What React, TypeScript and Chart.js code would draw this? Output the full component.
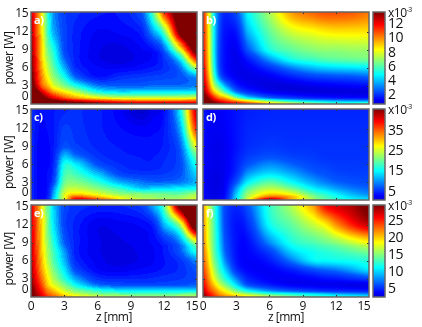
import React, { useEffect, useRef } from "react";
import { Chart, registerables } from "chart.js";
Chart.register(...registerables);

const FONT = '"Open Sans"';
const zNodes = [0, 0.5, 1, 1.5, 2, 3, 4, 6, 8, 10, 11, 12, 13.5, 15];
const powerNodes = [15.3, 12, 9, 7.5, 6, 4.5, 3, 2, 1, 0.5, 0];
const xTicks = [0, 3, 6, 9, 12, 15];
const yTicks = [0, 3, 6, 9, 12, 15];

const panelA = [
  [92,78,62,42,27,17,14,11,11,20,45,82,112,135],
  [95,80,64,44,30,18,12,7,8,12,28,47,105,135],
  [97,83,66,49,40,19,12,5,3,7,10,22,62,110],
  [99,84,67,53,43,23,12,5,2,6,8,15,37,87],
  [100,86,70,57,47,30,14,8,7,9,11,14,24,55],
  [104,88,74,62,52,39,22,10,14,16,17,18,20,27],
  [108,93,78,70,60,50,40,25,22,22,23,23,23,25],
  [115,105,92,82,73,64,56,40,35,36,36,36,36,37],
  [125,115,105,97,90,80,72,63,58,57,57,57,58,60],
  [135,125,115,110,105,97,92,85,80,78,78,78,78,80],
  [150,140,130,125,120,113,108,103,98,96,96,96,96,97],
];
const panelB = [
  [85,63,36,20,13,19,37,54,72,78,80,80,79,76],
  [86,64,37,18,10,11,30,47,58,62,64,65,65,65],
  [87,65,37,17,9,6,20,40,47,51,52,52,53,53],
  [88,66,38,17,9,5,11,28,40,44,46,47,48,49],
  [90,68,40,18,9,5,6,15,25,31,33,34,35,36],
  [92,72,45,24,13,6,4,6,12,17,18,19,20,22],
  [96,78,56,42,29,13,7,3,3,5,6,7,8,9],
  [100,85,68,57,45,25,15,7,4,3,3,3,3,3],
  [108,97,85,75,70,51,36,23,17,13,12,11,10,10],
  [115,105,95,88,83,74,65,50,40,34,32,30,29,28],
  [125,115,105,100,95,90,84,70,60,52,48,46,45,50],
];
const panelC = [
  [15,11,9,10,11,13,14,12,7,0,5,9,38,95],
  [14,10,8,9,11,17,15,12,9,7,8,11,30,85],
  [13,9,7,8,11,20,17,13,11,10,10,12,22,62],
  [13,9,7,8,12,30,23,15,12,11,11,13,20,48],
  [13,9,7,8,13,39,36,20,14,12,12,14,19,40],
  [13,9,7,9,15,43,43,31,18,15,15,16,20,34],
  [13,9,7,9,18,47,50,42,30,24,22,22,24,30],
  [13,9,7,10,24,52,56,50,42,32,33,34,36,38],
  [13,9,7,11,28,58,66,60,52,50,49,48,47,53],
  [13,9,7,12,30,60,80,70,60,53,52,51,52,57],
  [13,9,8,13,33,60,92,85,65,58,56,55,55,60],
];
const panelD = [
  [11,8,7,7,8,10,12,13,13,13,13,13,13,13],
  [10,7,6,6,7,10,13,14,14,14,14,14,14,14],
  [9,6,5,5,6,10,14,16,15,15,15,15,15,15],
  [9,6,5,5,6,11,16,19,17,16,15,15,15,15],
  [9,6,5,5,6,12,20,26,22,18,17,16,16,16],
  [9,5,4,4,6,14,27,34,29,22,20,18,17,17],
  [9,5,4,4,7,20,36,46,38,29,25,22,20,19],
  [9,5,4,4,8,27,45,55,48,36,32,28,24,22],
  [9,5,4,5,9,32,52,66,61,46,41,36,30,26],
  [9,5,4,5,10,34,55,78,70,51,45,40,34,31],
  [9,5,4,5,10,36,60,100,70,53,47,42,37,35],
];
const panelE = [
  [90,78,64,48,34,19,15,13,13,17,29,47,110,140],
  [91,79,65,49,36,18,12,5,6,8,12,30,55,120],
  [92,80,66,52,41,22,12,5,4,6,8,13,26,56],
  [93,81,67,54,44,28,12,5,3,5,7,11,21,40],
  [94,82,69,56,46,31,14,6,3,5,7,10,15,26],
  [96,84,71,60,50,36,19,8,6,8,9,11,14,20],
  [98,87,76,64,55,42,29,15,13,13,14,15,16,19],
  [100,90,80,68,60,50,38,24,20,19,19,19,20,22],
  [103,94,85,75,69,58,50,42,37,36,36,36,36,37],
  [105,96,88,79,74,64,57,50,47,46,46,46,47,49],
  [107,98,90,84,79,71,65,60,56,55,55,55,55,56],
];
const panelF = [
  [72,58,44,30,18,13,20,42,55,72,87,92,96,103],
  [73,59,45,31,18,10,14,38,47,57,63,73,85,93],
  [75,60,46,33,20,10,9,26,40,45,48,51,57,62],
  [77,63,47,35,22,10,8,17,33,39,41,43,46,49],
  [79,66,50,39,26,11,7,11,24,36,37,38,39,41],
  [82,70,55,43,33,15,8,7,12,19,22,24,29,35],
  [86,74,61,50,41,26,13,7,6,8,10,11,14,17],
  [89,78,68,58,50,35,20,12,7,6,5,5,4,5],
  [94,83,76,68,62,49,38,27,21,17,15,14,13,12],
  [98,88,80,73,68,60,53,44,39,35,33,30,28,26],
  [102,92,85,80,76,72,66,58,50,44,42,40,38,37],
];

const barTicksTop = [2, 4, 6, 8, 10, 12];
const barTicksMid = [5, 15, 25, 35];
const barTicksLow = [5, 10, 15, 20, 25];

const clamp = (v: number) => Math.max(0, Math.min(1, v));
function jet(t: number) {
  const r = clamp(1.5 - Math.abs(4 * t - 3));
  const g = clamp(1.5 - Math.abs(4 * t - 2));
  const b = clamp(1.5 - Math.abs(4 * t - 1));
  return `rgb(${Math.round(r * 255)},${Math.round(g * 255)},${Math.round(b * 255)})`;
}
// The reference's colour map starts at a mid blue rather than at navy.
const lift = (t: number) => (t < 0.2 ? 0.075 + 0.65 * t : t);

function locate(nodes: number[], v: number) {
  if (v <= nodes[0]) return 0;
  for (let i = 0; i < nodes.length - 1; i++) {
    if (v <= nodes[i + 1]) return i + (v - nodes[i]) / (nodes[i + 1] - nodes[i]);
  }
  return nodes.length - 1;
}
function cubic(a: number, b: number, c: number, d: number, f: number) {
  return b + 0.5 * f * (c - a + f * (2 * a - 5 * b + 4 * c - d + f * (3 * (b - c) + d - a)));
}
const pAsc = [...powerNodes].reverse();
function sample(points: any[], z: number, p: number) {
  const nz = zNodes.length;
  const np = pAsc.length;
  const at = (i: number, j: number) => {
    const ii = Math.max(0, Math.min(nz - 1, i));
    const jj = Math.max(0, Math.min(np - 1, j));
    return points[(np - 1 - jj) * nz + ii].v;
  };
  const fx = locate(zNodes, z);
  const fy = locate(pAsc, p);
  const ix = Math.floor(fx);
  const iy = Math.floor(fy);
  const rows = [-1, 0, 1, 2].map((dj) =>
    cubic(at(ix - 1, iy + dj), at(ix, iy + dj), at(ix + 1, iy + dj), at(ix + 2, iy + dj), fx - ix)
  );
  return cubic(rows[0], rows[1], rows[2], rows[3], fy - iy);
}

const heatPlugin = {
  id: "heat",
  beforeDraw(chart: any) {
    chart.ctx.letterSpacing = "-0.5px";
  },
  beforeDatasetsDraw(chart: any) {
    const { ctx, chartArea: a, scales } = chart;
    const o = chart.options.plugins.heat;
    const pts = chart.data.datasets[0].data;
    for (let px = Math.round(a.left); px < Math.round(a.right); px++) {
      const z = scales.x.getValueForPixel(px + 0.5);
      for (let py = Math.round(a.top); py < Math.round(a.bottom); py++) {
        const p = scales.y.getValueForPixel(py + 0.5);
        let t = clamp(sample(pts, z, p) / 100);
        if (o.levels) t = Math.round(t * o.levels) / o.levels;
        ctx.fillStyle = jet(lift(t));
        ctx.fillRect(px, py, 1, 1);
      }
    }
  },
  afterDraw(chart: any) {
    const { ctx, chartArea: a, scales } = chart;
    const o = chart.options.plugins.heat;
    ctx.save();
    ctx.strokeStyle = "#333";
    ctx.lineWidth = 1;
    xTicks.slice(1, -1).forEach((v) => {
      const x = Math.round(scales.x.getPixelForValue(v)) + 0.5;
      ctx.beginPath();
      ctx.moveTo(x, a.top);
      ctx.lineTo(x, a.top + 2);
      ctx.moveTo(x, a.bottom);
      ctx.lineTo(x, a.bottom - 2);
      ctx.stroke();
    });
    yTicks.slice(1, -1).forEach((v) => {
      const y = Math.round(scales.y.getPixelForValue(v)) + 0.5;
      ctx.beginPath();
      ctx.moveTo(a.left, y);
      ctx.lineTo(a.left + 2, y);
      ctx.moveTo(a.right, y);
      ctx.lineTo(a.right - 2, y);
      ctx.stroke();
    });
    ctx.strokeStyle = "#666";
    ctx.lineWidth = 1.5;
    ctx.strokeRect(a.left, a.top, a.right - a.left, a.bottom - a.top);
    ctx.fillStyle = "#fff";
    ctx.font = `bold 11px ${FONT}`;
    ctx.textBaseline = "middle";
    ctx.textAlign = "left";
    ctx.fillText(o.letter, a.left + 3, a.top + 9);
    ctx.restore();
  },
};

const barPlugin = {
  id: "colorbar",
  beforeDraw(chart: any) {
    chart.ctx.letterSpacing = "-0.5px";
  },
  beforeDatasetsDraw(chart: any) {
    const { ctx, chartArea: a, scales } = chart;
    const o = chart.options.plugins.colorbar;
    for (let py = Math.round(a.top); py < Math.round(a.bottom); py++) {
      const v = scales.y.getValueForPixel(py + 0.5);
      const t = 0.08 + (0.92 * (v - o.min)) / (o.max - o.min);
      ctx.fillStyle = jet(clamp(t));
      ctx.fillRect(a.left, py, a.right - a.left, 1);
    }
  },
  afterDraw(chart: any) {
    const { ctx, chartArea: a } = chart;
    ctx.save();
    ctx.strokeStyle = "#666";
    ctx.lineWidth = 1.5;
    ctx.strokeRect(a.left, a.top, a.right - a.left, a.bottom - a.top);
    ctx.fillStyle = "#111";
    ctx.textBaseline = "alphabetic";
    ctx.textAlign = "left";
    ctx.font = `12px ${FONT}`;
    ctx.fillText("x10", a.right + 3, a.top + 5);
    const w = ctx.measureText("x10").width;
    ctx.font = `7px ${FONT}`;
    ctx.fillText("-3", a.right + 3 + w, a.top);
    ctx.restore();
  },
};

type PanelProps = {
  left: number; top: number; width: number; height: number;
  padLeft: number; padBottom: number;
  grid: number[][]; letter: string; levels: number;
  showY: boolean; showX: boolean; yTitle: string;
};

function Panel(props: PanelProps) {
  const ref = useRef<HTMLCanvasElement>(null);
  useEffect(() => {
    const { grid, letter, levels, showY, showX, padLeft, padBottom, yTitle } = props;
    const data: any[] = [];
    grid.forEach((row, j) =>
      row.forEach((v, i) => data.push({ x: zNodes[i], y: powerNodes[j], v }))
    );
    const chart = new Chart(ref.current!, {
      type: "scatter",
      data: { datasets: [{ data, pointRadius: 0 }] },
      plugins: [heatPlugin],
      options: {
        responsive: false,
        animation: false,
        layout: { autoPadding: false, padding: { left: padLeft, right: 2, top: 8, bottom: padBottom } },
        plugins: { legend: { display: false }, tooltip: { enabled: false }, heat: { letter, levels } } as any,
        scales: {
          x: {
            type: "linear", min: 0, max: 15, display: showX,
            grid: { display: false, drawTicks: false }, border: { display: false },
            afterBuildTicks: (s: any) => { s.ticks = xTicks.map((value) => ({ value })); },
            afterFit: (s: any) => { s.height = showX ? 28 : 0; s.paddingLeft = 0; s.paddingRight = 0; },
            ticks: {
              autoSkip: false, maxRotation: 0, padding: 2, color: "#111",
              font: { family: FONT, size: 12 },
              callback: (v: any) => (v === 15 ? "15\u00a0\u00a0\u00a0\u00a0" : String(v)),
            },
            title: { display: true, text: "z [mm]", color: "#111", font: { family: FONT, size: 12 }, padding: 0 },
          },
          y: {
            type: "linear", min: 0, max: 15.3, display: showY,
            grid: { display: false, drawTicks: false }, border: { display: false },
            afterBuildTicks: (s: any) => { s.ticks = yTicks.map((value) => ({ value })); },
            afterFit: (s: any) => { s.width = showY ? 31 : 0; s.paddingTop = 0; s.paddingBottom = 0; },
            ticks: {
              autoSkip: false, padding: 3, color: "#111",
              font: { family: FONT, size: 12 },
              callback: (v: any) => (v === 0 ? ["0", " "] : String(v)),
            },
            title: { display: true, text: yTitle, color: "#111", font: { family: FONT, size: 12 }, padding: { top: 2, bottom: 0 } },
          },
        },
      } as any,
    });
    return () => chart.destroy();
  }, []);
  return (
    <canvas ref={ref} width={props.width} height={props.height}
      style={{ position: "absolute", left: props.left, top: props.top, width: props.width, height: props.height }} />
  );
}

function ColorBar({ top, height, min, max, ticks }: { top: number; height: number; min: number; max: number; ticks: number[] }) {
  const ref = useRef<HTMLCanvasElement>(null);
  useEffect(() => {
    const chart = new Chart(ref.current!, {
      type: "scatter",
      data: { datasets: [{ data: [], pointRadius: 0 }] },
      plugins: [barPlugin],
      options: {
        responsive: false,
        animation: false,
        layout: { autoPadding: false, padding: { left: 3, right: 0, top: 8, bottom: 2 } },
        plugins: { legend: { display: false }, tooltip: { enabled: false }, colorbar: { min, max } } as any,
        scales: {
          x: { type: "linear", display: false, afterFit: (s: any) => { s.height = 0; } },
          y: {
            type: "linear", position: "right", min, max,
            grid: { display: false, drawTicks: false }, border: { display: false },
            afterBuildTicks: (s: any) => { s.ticks = ticks.map((value) => ({ value })); },
            afterFit: (s: any) => { s.width = 37; s.paddingTop = 0; s.paddingBottom = 0; },
            ticks: { autoSkip: false, padding: 3, color: "#111", font: { family: FONT, size: 14 } },
          },
        },
      } as any,
    });
    return () => chart.destroy();
  }, []);
  return (
    <canvas ref={ref} width={52} height={height}
      style={{ position: "absolute", left: 370, top, width: 52, height }} />
  );
}

export default function App() {
  useEffect(() => { document.body.style.margin = "0"; document.body.style.background = "#fff"; }, []);
  const POW = "power [W]";
  const sp = "\u00a0\u00a0\u00a0\u00a0\u00a0\u00a0";
  return (
    <div style={{ position: "relative", width: 422, height: 327, overflow: "hidden" }}>
      <Panel left={0} top={4} width={199} height={102} padLeft={0} padBottom={2} grid={panelA} letter="a)" levels={34} showY showX={false} yTitle={POW} />
      <Panel left={190} top={4} width={181} height={102} padLeft={13} padBottom={2} grid={panelB} letter="b)" levels={0} showY={false} showX={false} yTitle="" />
      <Panel left={0} top={101} width={199} height={101} padLeft={0} padBottom={2} grid={panelC} letter="c)" levels={40} showY showX={false} yTitle={POW + sp} />
      <Panel left={190} top={101} width={181} height={101} padLeft={13} padBottom={2} grid={panelD} letter="d)" levels={0} showY={false} showX={false} yTitle="" />
      <Panel left={0} top={197} width={199} height={130} padLeft={0} padBottom={2} grid={panelE} letter="e)" levels={34} showY showX yTitle={POW + sp} />
      <Panel left={190} top={197} width={181} height={130} padLeft={13} padBottom={2} grid={panelF} letter="f)" levels={0} showY={false} showX yTitle="" />
      <ColorBar top={4} height={102} min={0.7} max={13.75} ticks={barTicksTop} />
      <ColorBar top={101} height={101} min={0.9} max={45.7} ticks={barTicksMid} />
      <ColorBar top={197} height={102} min={2.7} max={29.6} ticks={barTicksLow} />
    </div>
  );
}
